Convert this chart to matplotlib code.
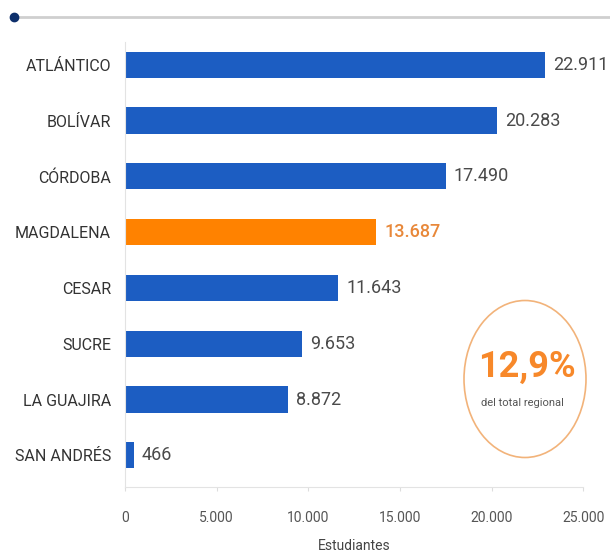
import matplotlib
matplotlib.use("Agg")
import matplotlib.pyplot as plt
from matplotlib.patches import Ellipse
from matplotlib.lines import Line2D
from matplotlib.ticker import FuncFormatter

plt.rcParams['font.family'] = ['Roboto', 'DejaVu Sans']

# Datos
departamentos = ["ATLÁNTICO", "BOLÍVAR", "CÓRDOBA", "MAGDALENA", "CESAR", "SUCRE", "LA GUAJIRA", "SAN ANDRÉS"]
estudiantes = [22911, 20283, 17490, 13687, 11643, 9653, 8872, 466]
destacado = "MAGDALENA"
porcentaje = "12,9%"

azul = "#1c5dc2"
naranja = "#ff8200"

def miles(v):
    return f"{int(v):,}".replace(",", ".")

fig = plt.figure(figsize=(6.1, 5.58), dpi=100)
ax = fig.add_axes([0.205, 0.127, 0.751, 0.798])

colores = [naranja if d == destacado else azul for d in departamentos]
y = range(len(departamentos))
ax.barh(y, estudiantes, height=0.47, color=colores)

for i, (d, v) in enumerate(zip(departamentos, estudiantes)):
    c = "#e8883a" if d == destacado else "#4a4a4a"
    ax.text(v + 450, i, miles(v), va="center", ha="left", fontsize=13,
            color=c, fontweight="medium" if d == destacado else "normal")

ax.set_yticks(list(y))
ax.set_yticklabels(departamentos, fontsize=11.5, color="#333333")
ax.set_ylim(len(departamentos) - 1 + 0.57, -0.41)
ax.set_xlim(0, 25000)
ax.set_xticks([0, 5000, 10000, 15000, 20000, 25000])
ax.xaxis.set_major_formatter(FuncFormatter(lambda v, p: miles(v)))
ax.tick_params(axis="x", labelsize=10, colors="#555555", length=3, color="#dddddd", pad=14)
ax.tick_params(axis="y", length=0, pad=10)
ax.set_xlabel("Estudiantes", fontsize=10, color="#444444", labelpad=10)

for s in ["top", "right"]:
    ax.spines[s].set_visible(False)
ax.spines["left"].set_color("#e3e3e3")
ax.spines["bottom"].set_color("#e3e3e3")

# línea superior con punto
fig.add_artist(Line2D([14 / 610, 1.0], [1 - 17 / 558, 1 - 17 / 558], color="#cfcfcf", lw=2))
fig.add_artist(Line2D([14 / 610], [1 - 17 / 558], marker="o", markersize=6, color="#0d2f6b"))

# círculo con porcentaje
fig.add_artist(Ellipse((525 / 610, 1 - 379 / 558), 122 / 610, 157 / 558,
                       fill=False, edgecolor="#f2b37a", lw=1.2))
fig.text(527 / 610, 1 - 367 / 558, porcentaje, ha="center", va="center",
         fontsize=26, fontweight="bold", color="#f7882a")
fig.text(522 / 610, 1 - 403 / 558, "del total regional", ha="center", va="center",
         fontsize=8, color="#555555")

fig.savefig("out.png", dpi=100, facecolor="white")
